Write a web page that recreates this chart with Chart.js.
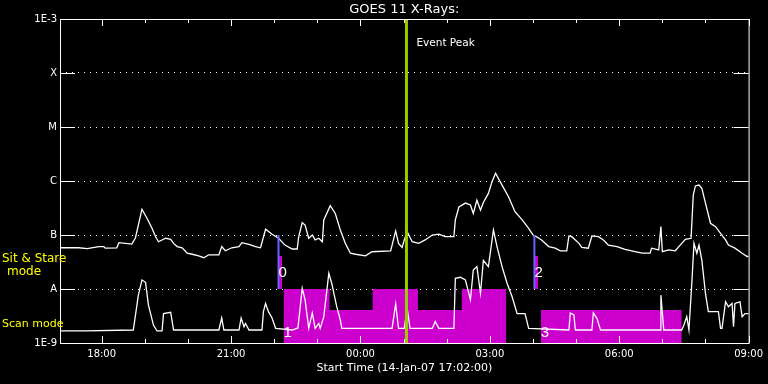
<!DOCTYPE html>
<html><head><meta charset="utf-8">
<script src="https://cdn.jsdelivr.net/npm/chart.js@4/dist/chart.umd.min.js"></script>
<style>html,body{margin:0;padding:0;background:#000;}#wrap{width:768px;height:384px;}</style>
</head><body><div id="wrap"><canvas id="c" width="768" height="384"></canvas></div>
<script>
// ---------- data ----------
const xStart = "17:02";
const xEnd = "09:00";
const xTickHours = [18,19,20,21,22,23,24,25,26,27,28,29,30,31,32,33];
const yTickValues = [1e-9,1e-8,1e-7,1e-6,1e-5,1e-4,1e-3];
const yTickLabels = ["1E-9","A","B","C","M","X","1E-3"];

const longTimes = ["17:02","17:28","17:40","17:56","18:03","18:05","18:21","18:24","18:42","18:47","18:56","19:03","19:10","19:15","19:19","19:29","19:36","19:40","19:45","19:52","19:59","20:06","20:15","20:22","20:29","20:43","20:47","20:52","21:01","21:11","21:15","21:25","21:34","21:41","21:48","21:57","22:06","22:15","22:25","22:32","22:34","22:39","22:43","22:48","22:53","22:57","23:02","23:07","23:09","23:18","23:25","23:32","23:39","23:46","23:53","00:07","00:16","00:42","00:49","00:53","00:58","01:01","01:05","01:12","01:21","01:30","01:40","01:49","01:58","02:10","02:12","02:17","02:26","02:33","02:37","02:42","02:47","02:51","02:58","03:03","03:08","03:17","03:26","03:35","03:45","03:54","04:01","04:03","04:12","04:22","04:31","04:38","04:47","04:50","04:54","05:04","05:08","05:17","05:22","05:31","05:38","05:45","05:57","06:08","06:22","06:32","06:43","06:45","06:55","06:58","07:00","07:09","07:18","07:23","07:32","07:40","07:43","07:46","07:51","07:55","08:00","08:07","08:14","08:21","08:28","08:32","08:41","08:51","08:58","09:00"];
const longFlux = [5.8e-8,5.8e-8,5.6e-8,6.1e-8,6.1e-8,5.7e-8,5.8e-8,7.2e-8,6.8e-8,8.9e-8,3.0e-7,2.04e-7,1.33e-7,9.3e-8,7.5e-8,8.7e-8,8.3e-8,7.0e-8,6.1e-8,5.8e-8,4.6e-8,4.4e-8,4.1e-8,3.8e-8,4.3e-8,4.3e-8,6.1e-8,5.1e-8,5.8e-8,6.1e-8,7.2e-8,6.7e-8,6.1e-8,5.8e-8,1.28e-7,1.03e-7,8.7e-8,6.5e-8,5.5e-8,5.5e-8,9.1e-8,1.69e-7,1.53e-7,8.7e-8,1.0e-7,8.1e-8,8.7e-8,7.5e-8,1.9e-7,3.5e-7,2.5e-7,1.24e-7,7.0e-8,4.6e-8,4.4e-8,4.1e-8,4.9e-8,5.1e-8,1.19e-7,7.0e-8,5.9e-8,8.1e-8,1.15e-7,7.5e-8,7.0e-8,8.1e-8,1.0e-7,1.04e-7,9.3e-8,9.3e-8,1.9e-7,3.3e-7,3.9e-7,3.6e-7,2.5e-7,4.4e-7,2.9e-7,4.0e-7,5.9e-7,9.7e-7,1.39e-6,8.4e-7,5.1e-7,2.7e-7,1.9e-7,1.33e-7,9.6e-8,9.6e-8,8.1e-8,6.1e-8,5.7e-8,5.1e-8,5.1e-8,9.6e-8,9.3e-8,7.0e-8,5.9e-8,5.7e-8,9.6e-8,9.3e-8,8.1e-8,6.5e-8,6.1e-8,5.4e-8,4.9e-8,4.6e-8,4.6e-8,5.7e-8,5.3e-8,1.43e-7,4.9e-8,5.3e-8,5.1e-8,6.1e-8,8.3e-8,8.7e-8,5.5e-7,8.1e-7,8.4e-7,7.3e-7,3.9e-7,1.65e-7,1.43e-7,1.07e-7,8.1e-8,6.5e-8,5.7e-8,4.6e-8,4.0e-8,4.0e-8];

const shortTimes = ["17:02","17:37","18:44","18:51","18:56","19:01","19:05","19:12","19:17","19:24","19:26","19:36","19:40","20:43","20:47","20:50","21:11","21:14","21:18","21:20","21:25","21:43","21:45","21:48","21:52","21:57","22:02","22:25","22:33","22:39","22:43","22:48","22:53","22:57","23:02","23:04","23:09","23:16","23:20","23:27","23:32","23:34","00:44","00:49","00:53","01:01","01:05","01:09","01:40","01:44","01:49","02:10","02:12","02:19","02:26","02:33","02:37","02:42","02:47","02:51","02:58","03:05","03:10","03:17","03:24","03:31","03:38","03:49","03:54","04:50","04:52","04:57","04:59","05:22","05:24","05:29","05:34","06:57","06:58","07:02","07:27","07:30","07:34","07:37","07:41","07:44","07:48","07:51","07:55","08:00","08:04","08:18","08:21","08:23","08:28","08:32","08:37","08:39","08:41","08:48","08:51","08:55","09:00"];
const shortFlux = [1.67e-9,1.67e-9,1.74e-9,7.7e-9,1.47e-8,1.33e-8,5.1e-9,2.15e-9,1.67e-9,1.67e-9,3.5e-9,3.7e-9,1.74e-9,1.74e-9,2.9e-9,1.74e-9,1.74e-9,2.9e-9,2.0e-9,2.3e-9,1.74e-9,1.74e-9,3.8e-9,5.4e-9,3.8e-9,2.9e-9,1.87e-9,1.74e-9,1.9e-9,1.03e-8,6.3e-9,1.87e-9,3.6e-9,1.87e-9,2.3e-9,1.87e-9,3.07e-9,1.95e-8,1.28e-8,4.7e-9,2.67e-9,1.87e-9,1.87e-9,5.3e-9,1.87e-9,1.87e-9,4.4e-9,1.87e-9,1.87e-9,2.5e-9,1.87e-9,1.87e-9,1.58e-8,1.65e-8,1.47e-8,6.3e-9,2.25e-8,2.6e-8,8.3e-9,3.4e-8,2.6e-8,1.24e-7,6.1e-8,2.6e-8,1.28e-8,7.2e-9,3.5e-9,3.5e-9,1.87e-9,1.74e-9,3.6e-9,3.3e-9,1.74e-9,1.74e-9,3.6e-9,2.87e-9,1.74e-9,1.74e-9,7.7e-9,1.74e-9,1.74e-9,2.15e-9,3.07e-9,1.74e-9,1.28e-8,7.0e-8,4.6e-8,6.5e-8,3.4e-8,8.3e-9,3.8e-9,3.8e-9,1.87e-9,1.87e-9,5.8e-9,4.7e-9,5.4e-9,2.0e-9,5.4e-9,5.8e-9,3.07e-9,3.5e-9,3.5e-9];

// Scan mode periods (magenta blocks from the floor up to a level)
const scanStart = ["22:13","23:17","00:17","01:20","02:21","04:11"];
const scanEnd   = ["23:17","00:17","01:20","02:21","03:23","07:27"];
const scanLevel = [1e-8, 4.1e-9, 1e-8, 4.1e-9, 1e-8, 4.1e-9];
const scanFloor = 1e-9;

// Sit & Stare periods
const sitStart = ["22:06","04:02"];
const sitEnd   = ["22:11","04:07"];
const sitLevel = [4.1e-8, 4.1e-8];
const sitFloor = 1e-8;
const sitMarkTime = ["22:06","04:02"];
const sitMarkLow = 1e-8;
const sitMarkHigh = 1e-7;

// mode numbers
const modeNames  = ["0","1","2","3"];
const modeKinds  = ["sit","scan","sit","scan"];
const modeStarts = ["22:06","22:13","04:02","04:11"];

const eventPeakTime = "01:04";

// ---------- helpers ----------
function hrs(s){ const p = s.split(':').map(Number); let v = p[0] + p[1]/60; if (v < 12) v += 24; return v; }
function pad(n){ return (n<10?'0':'')+n; }

const MAGENTA = '#cc00cc', BLUE = '#6464ff', GREEN = '#99cc00';
const FONT = 'DejaVu Sans';

const datasets = [];
// green event line (on top)
datasets.push({ data:[{x:hrs(eventPeakTime),y:yTickValues[0]},{x:hrs(eventPeakTime),y:yTickValues[yTickValues.length-1]}],
  borderColor:GREEN, borderWidth:3, pointRadius:0, fill:false });
// blue sit & stare markers
sitMarkTime.forEach(t=>{
  datasets.push({ data:[{x:hrs(t),y:sitMarkLow},{x:hrs(t),y:sitMarkHigh}], borderColor:BLUE, borderWidth:2, pointRadius:0, fill:false });
});
// long (upper) curve
datasets.push({ data:longTimes.map((t,i)=>({x:hrs(t),y:longFlux[i]})), borderColor:'#ffffff', borderWidth:1.3, pointRadius:0, tension:0, fill:false });
// short (lower) curve
datasets.push({ data:shortTimes.map((t,i)=>({x:hrs(t),y:shortFlux[i]})), borderColor:'#ffffff', borderWidth:1.3, pointRadius:0, tension:0, fill:false });
// sit & stare fills
sitStart.forEach((t,i)=>{
  datasets.push({ data:[{x:hrs(t),y:sitLevel[i]},{x:hrs(sitEnd[i]),y:sitLevel[i]}], borderColor:'rgba(0,0,0,0)', borderWidth:0,
    backgroundColor:MAGENTA, pointRadius:0, fill:{value:sitFloor} });
});
// scan fills: merge contiguous blocks into stepped datasets
let run = null;
const runs = [];
for (let i=0;i<scanStart.length;i++){
  if (run && run.end === scanStart[i]) { run.pts.push({x:hrs(scanStart[i]), y:scanLevel[i]}); run.end = scanEnd[i]; run.last = scanLevel[i]; }
  else { if (run) runs.push(run); run = {pts:[{x:hrs(scanStart[i]), y:scanLevel[i]}], end:scanEnd[i], last:scanLevel[i]}; }
}
if (run) runs.push(run);
runs.forEach(r=>{
  r.pts.push({x:hrs(r.end), y:r.last});
  datasets.push({ data:r.pts, stepped:true, borderColor:'rgba(0,0,0,0)', borderWidth:0, backgroundColor:MAGENTA, pointRadius:0, fill:{value:scanFloor} });
});

const decor = {
  id:'decor',
  afterDraw(chart){
    const ctx = chart.ctx, a = chart.chartArea, xs = chart.scales.x, ys = chart.scales.y;
    ctx.save();
    ctx.strokeStyle = '#fff'; ctx.lineWidth = 1;
    // solid inner ticks on y levels
    yTickValues.forEach((v,i)=>{
      if (i===0 || i===yTickValues.length-1) return;
      const y = Math.round(ys.getPixelForValue(v)) + 0.5;
      ctx.beginPath(); ctx.moveTo(a.left, y); ctx.lineTo(a.left+15, y);
      ctx.moveTo(a.right-15, y); ctx.lineTo(a.right, y); ctx.stroke();
    });
    // x ticks inward top and bottom
    xTickHours.forEach(v=>{
      const x = Math.round(xs.getPixelForValue(v)) + 0.5;
      const len = (v % 3 === 0) ? 7 : 4;
      ctx.beginPath(); ctx.moveTo(x, a.bottom); ctx.lineTo(x, a.bottom-len);
      ctx.moveTo(x, a.top); ctx.lineTo(x, a.top+len); ctx.stroke();
    });
    // frame
    ctx.strokeRect(a.left+0.5, a.top+0.5, a.right-a.left, a.bottom-a.top);
    // title
    ctx.fillStyle = '#fff'; ctx.textBaseline = 'middle';
    ctx.font = '13px "'+FONT+'"'; ctx.textAlign = 'center';
    ctx.fillText('GOES 11 X-Rays:', (a.left+a.right)/2, 10);
    // event peak label
    ctx.font = '10.5px "'+FONT+'"'; ctx.textAlign = 'left';
    ctx.fillText('Event Peak', xs.getPixelForValue(hrs(eventPeakTime)) + 10, a.top + 24);
    // mode numbers
    ctx.font = '15px "Liberation Sans"';
    modeNames.forEach((n,i)=>{
      const x = xs.getPixelForValue(hrs(modeStarts[i]));
      const y = modeKinds[i]==='sit' ? ys.getPixelForValue(Math.sqrt(sitLevel[0]*sitFloor)) : a.bottom - 10;
      ctx.fillText(n, x, y);
    });
    // yellow mode legends
    ctx.fillStyle = '#ffff00';
    ctx.font = '12px "'+FONT+'"'; ctx.textAlign = 'left';
    ctx.fillText('Sit & Stare', 2, 259);
    ctx.textAlign = 'center';
    ctx.fillText('mode', 24, 272);
    ctx.font = '11px "'+FONT+'"'; ctx.textAlign = 'left';
    ctx.fillText('Scan mode', 2, 324);
    ctx.restore();
  }
};

new Chart(document.getElementById('c'), {
  type:'line',
  data:{ datasets },
  options:{
    responsive:false, animation:false, devicePixelRatio:1,
    layout:{ padding:{ left:0, right:18, top:19, bottom:0 } },
    plugins:{ legend:{display:false}, tooltip:{enabled:false}, title:{display:false} },
    scales:{
      x:{ type:'linear', min:hrs(xStart), max:hrs(xEnd),
        afterBuildTicks:s=>{ s.ticks = xTickHours.map(v=>({value:v})); },
        ticks:{ color:'#fff', font:{family:FONT, size:10}, padding:5, autoSkip:false, maxRotation:0,
          callback:(v)=> (v % 3 === 0) ? pad(v % 24) + ':00' : '' },
        grid:{ display:false, drawTicks:false },
        border:{ display:false },
        title:{ display:true, text:'Start Time (14-Jan-07 17:02:00)', color:'#fff', font:{family:FONT, size:11}, padding:{top:0, bottom:9} },
        afterFit:s=>{ s.height = 41; }
      },
      y:{ type:'logarithmic', min:yTickValues[0], max:yTickValues[yTickValues.length-1],
        afterBuildTicks:s=>{ s.ticks = yTickValues.map(v=>({value:v})); },
        ticks:{ color:'#fff', font:{family:FONT, size:10}, padding:3, autoSkip:false,
          callback:(v,i)=> yTickLabels[i] },
        grid:{ color:'#fff', lineWidth:1, drawTicks:false },
        border:{ display:false, dash:[1,5] },
        afterFit:s=>{ s.width = 60; }
      }
    }
  },
  plugins:[decor]
});
</script>
</body></html>
